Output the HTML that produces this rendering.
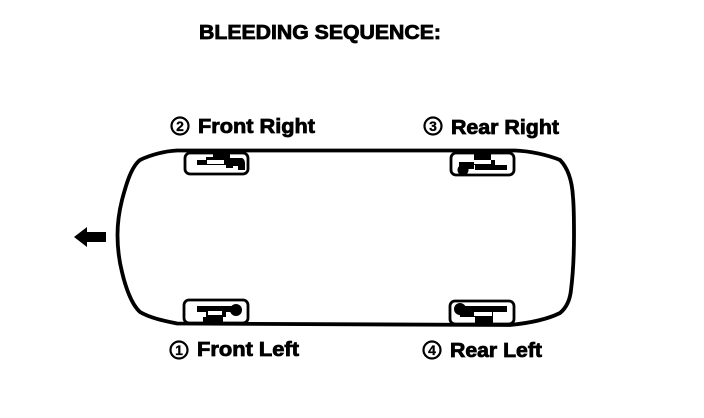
<!DOCTYPE html>
<html>
<head>
<meta charset="utf-8">
<style>
html,body{margin:0;padding:0;background:#fff;width:704px;height:418px;overflow:hidden}
svg{display:block}
text{font-family:"Liberation Sans",sans-serif;font-weight:bold;fill:#000;stroke:#000}
.t{font-size:20px;stroke-width:.8px}
.n{font-size:14px;stroke-width:.3px;text-anchor:middle}
.c{fill:#fff;stroke:#000;stroke-width:2.2}
.w{fill:#fff;stroke:#000;stroke-width:2.8}
</style>
</head>
<body>
<svg width="704" height="418" viewBox="0 0 704 418" xmlns="http://www.w3.org/2000/svg">
<text class="t" x="199" y="39" textLength="242" lengthAdjust="spacingAndGlyphs">BLEEDING SEQUENCE:</text>

<path d="M515 150.500 L177 150.500 C165 151 150 155 140 160 C131 167 126 185 122 200 C119 212 117.500 225 117.500 235 C117.500 248 119 260 122 272 C125 285 131 304 140 312 C150 318 165 321 177 323.500 L510 325 C530 323 548 319 560 313 C566 308 570 300 571 290 C573.500 270 574 250 574 235 C574 220 574 208 573 197 C572 180 568 168 560 160 C548 155 530 151 515 150.500 Z" fill="none" stroke="#000" stroke-width="3.800"/>

<path d="M74 237 L87 227 L87 232 L106 232 L106 242 L87 242 L87 247 Z" fill="#000"/>

<!-- Front Right wheel -->
<rect class="w" x="185" y="153" width="63" height="21" rx="5"/>
<path d="M197 160h9v-3h7v-5h17v6h12q3 1 3 6v6h-7v-4h-5v2h-7v-3h-29z" fill="#000"/>
<rect x="207" y="160" width="17" height="4" fill="#fff"/>

<!-- Rear Right wheel -->
<rect class="w" x="451" y="153" width="63" height="22" rx="5"/>
<path d="M474 160v-8h17v8h4v5h12v5h-32v-5h-14v-3h13z" fill="#000"/>
<rect x="474" y="160" width="17" height="4" fill="#fff"/>
<circle cx="463" cy="170" r="5.500" fill="#000"/>
<rect x="459" y="162" width="15" height="7" fill="#000"/>

<!-- Front Left wheel -->
<rect class="w" x="184" y="300" width="64" height="23" rx="5"/>
<path d="M197 306h36v6h-7v5h-3v7h-20v-7h3v-5h-9z" fill="#000"/>
<rect x="208" y="311" width="14" height="4" fill="#fff"/>
<circle cx="236" cy="310" r="6" fill="#000"/>

<!-- Rear Left wheel -->
<rect class="w" x="450" y="301" width="64" height="23" rx="5"/>
<path d="M459 306h48v6h-14v13h-18v-8h-15z" fill="#000"/>
<rect x="474" y="312" width="18" height="4" fill="#fff"/>
<circle cx="460" cy="309" r="6" fill="#000"/>

<circle class="c" cx="180" cy="126" r="8.500"/>
<text class="n" x="180" y="131">2</text>
<text class="t" x="198" y="133" textLength="117" lengthAdjust="spacingAndGlyphs">Front Right</text>

<circle class="c" cx="433" cy="126" r="8.500"/>
<text class="n" x="433" y="131">3</text>
<text class="t" x="451" y="134" textLength="108" lengthAdjust="spacingAndGlyphs">Rear Right</text>

<circle class="c" cx="179" cy="350" r="8.500"/>
<text class="n" x="179" y="355">1</text>
<text class="t" x="197" y="356" textLength="102" lengthAdjust="spacingAndGlyphs">Front Left</text>

<circle class="c" cx="432" cy="350" r="8.500"/>
<text class="n" x="432" y="355">4</text>
<text class="t" x="450" y="357" textLength="92" lengthAdjust="spacingAndGlyphs">Rear Left</text>
</svg>
</body>
</html>
